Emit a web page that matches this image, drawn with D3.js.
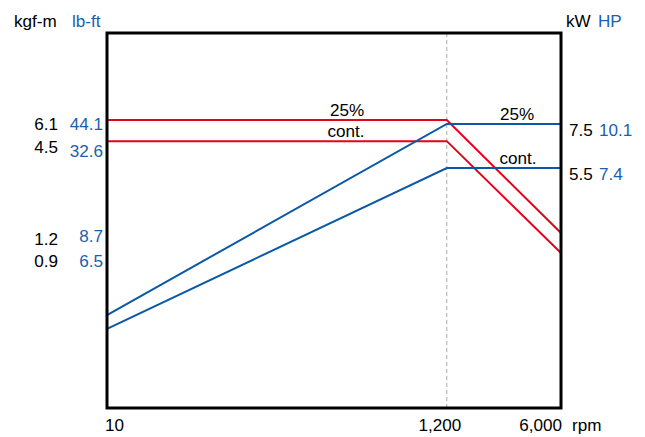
<!DOCTYPE html>
<html lang="en">
<head>
  <meta charset="UTF-8">
  <title>Torque / power vs rpm</title>
  <script src="https://d3js.org/d3.v7.min.js"></script>
  <style>
    body { margin: 0; background: #fff; }
    text { font-family: "Liberation Sans", Arial, sans-serif; font-size: 16px; }
    .blk { fill: #000; }
    .blu { fill: #1a5fae; }
  </style>
</head>
<body>
<script>
// chart values
var rpm = [10, 1200, 6000];
var rpmLabels = ["10", "1,200", "6,000"];

// torque (kgf-m) : 25% rating, continuous rating
var torque25   = [6.1, 6.1, 1.2];
var torqueCont = [4.5, 4.5, 0.9];
var torqueTicks = [6.1, 4.5, 1.2, 0.9];
var torqueLbft  = ["44.1", "32.6", "8.7", "6.5"];

// power (kW) : 25% rating, continuous rating
var power25   = [1.95, 7.5, 7.5];
var powerCont = [1.77, 5.5, 5.5];
var powerTicks = [7.5, 5.5];
var powerHp    = ["10.1", "7.4"];

var curveNames = ["25%", "cont."];

var W = 645, H = 437;
var margin = {left: 107, top: 33, right: 84, bottom: 29};
var pw = W - margin.left - margin.right,
    ph = H - margin.top - margin.bottom;

var RED = "#e60019", BLUE = "#0b58a6";
var STRETCH = 1.07;   // the lettering in the picture is a little wide

var svg = d3.select("body").append("svg")
    .attr("width", W)
    .attr("height", H);

var g = svg.append("g").attr("transform", "translate(" + margin.left + "," + margin.top + ")");

// log rpm axis, schematic log axes for torque and power
var x = d3.scaleLog().domain([10, 6000]).range([0, pw]);
var yT = d3.scaleLog().domain([0.9, 6.1]).range([220, 87]);
var yP = d3.scaleLog().domain([5.5, 7.5]).range([135, 91]);

function label(sel, txt, px, py, anchor, cls) {
  return sel.append("text")
    .attr("class", cls)
    .attr("text-anchor", anchor || "start")
    .attr("transform", "translate(" + px + "," + py + ") scale(" + STRETCH + ",1)")
    .text(txt);
}

// dashed line at base speed
g.append("line")
  .attr("x1", x(1200)).attr("x2", x(1200))
  .attr("y1", 0).attr("y2", ph)
  .attr("stroke", "#aaa")
  .attr("stroke-width", 1)
  .attr("stroke-dasharray", "4,3");

var lineT = d3.line().x(function(d, i) { return x(rpm[i]); }).y(function(d) { return yT(d); });
var lineP = d3.line().x(function(d, i) { return x(rpm[i]); }).y(function(d) { return yP(d); });

[torque25, torqueCont].forEach(function(s) {
  g.append("path").datum(s)
    .attr("d", lineT)
    .attr("fill", "none")
    .attr("stroke", RED)
    .attr("stroke-width", 2);
});
[power25, powerCont].forEach(function(s) {
  g.append("path").datum(s)
    .attr("d", lineP)
    .attr("fill", "none")
    .attr("stroke", BLUE)
    .attr("stroke-width", 2);
});

// frame
g.append("rect")
  .attr("width", pw).attr("height", ph)
  .attr("fill", "none")
  .attr("stroke", "#000")
  .attr("stroke-width", 3);

// curve names
label(g, curveNames[0], 240, yT(torque25[0]) - 4, "middle", "blk");
label(g, curveNames[1], 239, yT(torqueCont[0]) - 4, "middle", "blk");
label(g, curveNames[0], 410, yP(power25[2]) - 4, "middle", "blk");
label(g, curveNames[1], 411, yP(powerCont[2]) - 4, "middle", "blk");

// left: torque values
var blueDy = [10, 16, 9, 14], blackDy = [10, 12, 12, 14];
torqueTicks.forEach(function(v, i) {
  label(g, v.toFixed(1), -49, yT(v) + blackDy[i], "end", "blk");
  label(g, torqueLbft[i], -4, yT(v) + blueDy[i], "end", "blu");
});

// right: power values
powerTicks.forEach(function(v, i) {
  label(g, v.toFixed(1), pw + 8, yP(v) + 12, "start", "blk");
  label(g, powerHp[i], pw + 38, yP(v) + 12, "start", "blu");
});

// units
label(svg, "kgf-m", 14, 27, "start", "blk");
label(svg, "lb-ft", 72, 27, "start", "blu");
label(svg, "kW", 566, 27, "start", "blk");
label(svg, "HP", 598, 27, "start", "blu");

// rpm ticks
var xAnchor = ["start", "middle", "end"];
var xShift = [-2, -7, 1];
rpm.forEach(function(v, i) {
  label(g, rpmLabels[i], x(v) + xShift[i], ph + 23, xAnchor[i], "blk");
});
label(g, "rpm", pw + 11, ph + 23, "start", "blk");
</script>
</body>
</html>
